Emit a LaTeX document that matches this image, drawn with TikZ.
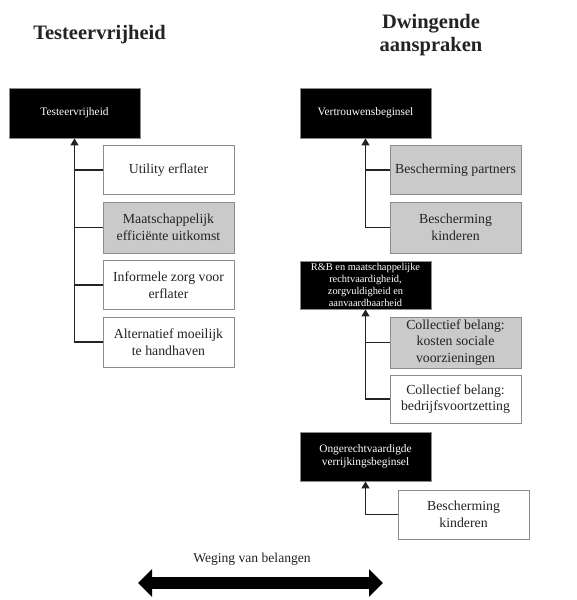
\documentclass[tikz,border=0pt]{standalone}
\usepackage{fontspec}
\setmainfont{Liberation Serif}
\usetikzlibrary{arrows.meta}
\definecolor{boxgray}{RGB}{202,202,202}
\definecolor{rimgray}{RGB}{140,140,140}
\definecolor{inkgray}{RGB}{35,35,35}

\begin{document}
\begin{tikzpicture}[x=1pt,y=-1pt,
    kid/.style={rectangle,draw=rimgray,line width=.8pt,fill=white,minimum width=131pt,minimum height=49pt,inner sep=1pt,align=center,text=inkgray,font=\fontsize{13.8}{16.7}\selectfont},
    head/.style={rectangle,draw=rimgray,line width=.8pt,fill=black,minimum width=131pt,minimum height=50pt,inner sep=1pt,align=center,text=white,font=\fontsize{11.4}{13.3}\selectfont},
    title/.style={align=center,text=inkgray,font=\fontsize{20.5}{23.5}\selectfont\bfseries},
    link/.style={line width=1.3pt,draw=inkgray},
    up/.style={link,-{Triangle[length=7pt,width=8pt]}}]
    \useasboundingbox (0,0) rectangle (576,600);

    \node[title] (title_l) at (99.5,35) {Testeervrijheid};
    \node[title] (title_r) at (431,35) {Dwingende\\aanspraken};

    \node[head] (testeer) at (74.5,113) {Testeervrijheid};
    \node[kid,xshift=94pt,yshift=-57pt] (utility) at (testeer) {Utility erflater};
    \node[kid,fill=boxgray,xshift=94pt,yshift=-114.5pt,minimum height=51pt] (efficient) at (testeer) {Maatschappelijk\\efficiënte uitkomst};
    \node[kid,xshift=94pt,yshift=-172pt] (zorg) at (testeer) {Informele zorg voor\\erflater};
    \node[kid,xshift=94pt,yshift=-229pt,minimum height=50pt] (handhaven) at (testeer) {Alternatief moeilijk\\te handhaven};

    \node[head] (vertrouwen) at (365.5,113) {Vertrouwensbeginsel};
    \node[kid,fill=boxgray,xshift=90pt,yshift=-57pt] (partners) at (vertrouwen) {Bescherming partners};
    \node[kid,fill=boxgray,xshift=90pt,yshift=-114.5pt,minimum height=51pt] (kinderen) at (vertrouwen) {Bescherming\\kinderen};

    \node[head,minimum height=48pt,inner sep=0pt,font=\fontsize{10.4}{12.2}\selectfont] (rb) at (365.5,285) {R\&B en maatschappelijke\\rechtvaardigheid,\\zorgvuldigheid en\\aanvaardbaarheid};
    \node[kid,fill=boxgray,xshift=90pt,yshift=-57.5pt,minimum height=51pt,inner sep=0pt] (sociaal) at (rb) {Collectief belang:\\kosten sociale\\voorzieningen};
    \node[kid,xshift=90pt,yshift=-114pt,minimum height=48pt] (bedrijf) at (rb) {Collectief belang:\\bedrijfsvoortzetting};

    \node[head,minimum height=49pt] (verrijking) at (365.5,456.5) {Ongerechtvaardigde\\verrijkingsbeginsel};
    \node[kid,xshift=98pt,yshift=-58pt] (kinderen2) at (verrijking) {Bescherming\\kinderen};

    \draw[up] (handhaven.west) -| (testeer.south);
    \foreach \k in {utility,efficient,zorg}
        \draw[link] (\k.west) -- (\k.west -| testeer.south);
    \draw[up] (kinderen.west) -| (vertrouwen.south);
    \draw[link] (partners.west) -- (partners.west -| vertrouwen.south);
    \draw[up] (bedrijf.west) -| (rb.south);
    \draw[link] (sociaal.west) -- (sociaal.west -| rb.south);
    \draw[up] (kinderen2.west) -| (verrijking.south);

    \node[text=inkgray,font=\fontsize{13.6}{16}\selectfont] (weging) at (252,559) {Weging van belangen};
    \coordinate (w_l) at (138,583);
    \coordinate (w_r) at (383,583);
    \draw[line width=12pt,draw=black,{Triangle[length=14pt,width=27pt]}-{Triangle[length=14pt,width=27pt]}] (w_l) -- (w_r);
\end{tikzpicture}
\end{document}
